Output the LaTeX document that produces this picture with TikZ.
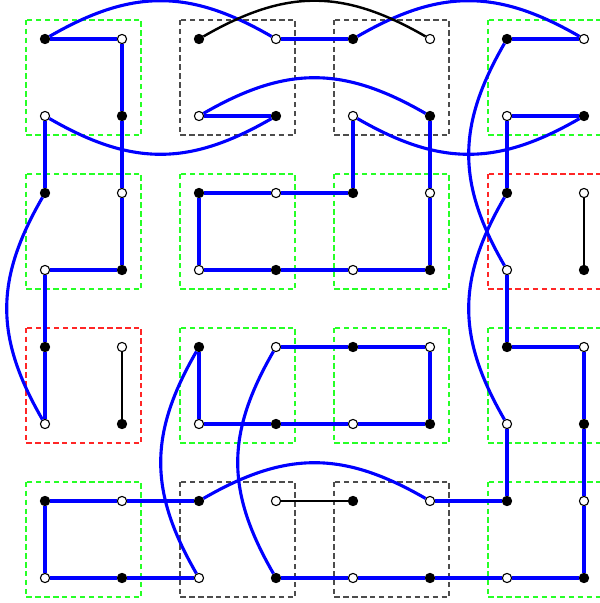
\documentclass[tikz,border=0pt]{standalone}
\usetikzlibrary{calc}
\tikzset{
  fdot/.style={circle,draw=black,fill=black,line width=0.4pt,inner sep=0pt,minimum size=3.4pt},
  odot/.style={circle,draw=black,fill=white,line width=0.4pt,inner sep=0pt,minimum size=3.4pt},
  bluelink/.style={draw=blue,line width=1.15pt},
  blacklink/.style={draw=black,line width=0.9pt},
  cellbox/.style={line width=0.6pt,dash pattern=on 2pt off 1.3pt},
  greenbox/.style={cellbox,draw=green!85!white},
  redbox/.style={cellbox,draw=red!85!white},
  graybox/.style={cellbox,draw=black!70},
  hump/.style={out=30,in=150,looseness=1.1},
  humpback/.style={out=150,in=30,looseness=1.1},
  dip/.style={out=-30,in=-150,looseness=1.1},
  bulge/.style={out=240,in=120,looseness=1.1}
}
\begin{document}
\begin{tikzpicture}
\useasboundingbox (-0.5844,0.5065) rectangle (7.2078,-7.3247);
\clip (-0.5844,0.5065) rectangle (7.2078,-7.3247);
% cell boxes
\foreach \c/\r in {0/0,3/0,0/1,1/1,2/1,1/2,2/2,3/2,0/3,3/3}{
  \draw[greenbox] (2*\c-0.25,-2*\r+0.25) rectangle (2*\c+1.25,-2*\r-1.25);
}
\foreach \c/\r in {3/1,0/2}{
  \draw[redbox] (2*\c-0.25,-2*\r+0.25) rectangle (2*\c+1.25,-2*\r-1.25);
}
\foreach \c/\r in {1/0,2/0,1/3,2/3}{
  \draw[graybox] (2*\c-0.25,-2*\r+0.25) rectangle (2*\c+1.25,-2*\r-1.25);
}
% dots
\foreach \i in {0,...,7}{
  \foreach \j in {0,...,7}{
    \pgfmathtruncatemacro\myparity{mod(\i+\j,2)}
    \ifnum\myparity=0
      \node[fdot] (p-\i-\j) at (\i,-\j) {};
    \else
      \node[odot] (p-\i-\j) at (\i,-\j) {};
    \fi
  }
}
% straight blue connectors
\foreach \a/\b in {0-0/1-0, 1-0/1-1, 1-1/1-2, 1-2/1-3, 1-3/0-3, 0-3/0-4, 0-4/0-5,
                   0-1/0-2, 2-1/3-1, 3-0/4-0, 4-1/4-2, 4-2/3-2, 3-2/2-2, 2-2/2-3,
                   2-3/3-3, 3-3/4-3, 4-3/5-3, 5-3/5-2, 5-2/5-1,
                   6-0/7-0, 6-1/7-1, 6-1/6-2, 6-3/6-4, 6-4/7-4,
                   7-4/7-5, 7-5/7-6, 7-6/7-7, 7-7/6-7, 6-7/5-7, 5-7/4-7, 4-7/3-7,
                   6-5/6-6, 6-6/5-6, 2-4/2-5, 2-5/3-5, 3-5/4-5, 4-5/5-5, 5-5/5-4,
                   5-4/4-4, 4-4/3-4, 0-6/1-6, 1-6/2-6, 0-6/0-7, 0-7/1-7, 1-7/2-7}{
  \draw[bluelink] (p-\a) -- (p-\b);
}
% curved blue connectors
\draw[bluelink] (p-0-0) to[hump] (p-3-0);
\draw[bluelink] (p-0-1) to[dip] (p-3-1);
\draw[bluelink] (p-2-1) to[hump] (p-5-1);
\draw[bluelink] (p-4-0) to[hump] (p-7-0);
\draw[bluelink] (p-4-1) to[dip] (p-7-1);
\draw[bluelink] (p-5-6) to[humpback] (p-2-6);
\draw[bluelink] (p-0-2) to[bulge] (p-0-5);
\draw[bluelink] (p-6-0) to[bulge] (p-6-3);
\draw[bluelink] (p-6-2) to[bulge] (p-6-5);
\draw[bluelink] (p-2-4) to[bulge] (p-2-7);
\draw[bluelink] (p-3-4) to[bulge] (p-3-7);
% black connectors
\draw[blacklink] (p-2-0) to[hump] (p-5-0);
\draw[blacklink] (p-7-2) -- (p-7-3);
\draw[blacklink] (p-1-4) -- (p-1-5);
\draw[blacklink] (p-3-6) -- (p-4-6);
\end{tikzpicture}
\end{document}
